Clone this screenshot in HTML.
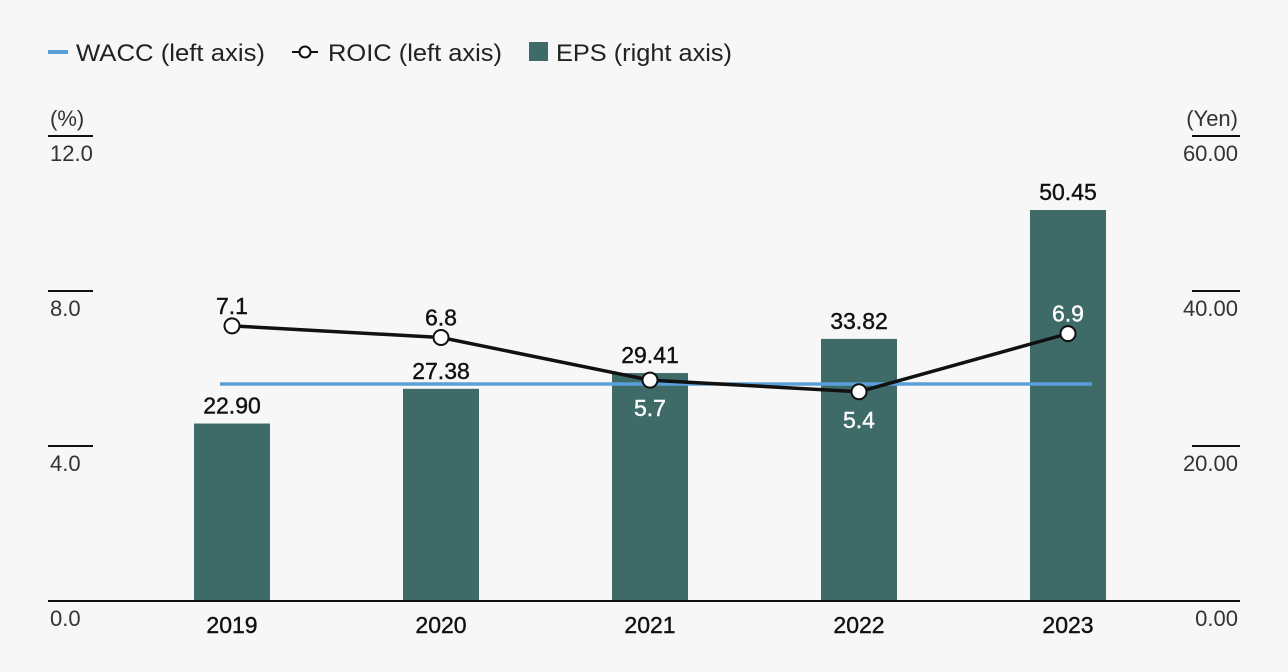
<!DOCTYPE html>
<html><head><meta charset="utf-8"><style>
body{margin:0;background:#f7f7f7;font-family:"Liberation Sans",sans-serif;}
svg{display:block}
</style></head><body>
<svg id="c" width="1288" height="672" xmlns="http://www.w3.org/2000/svg">
<g font-size="24" fill="#222">
<g><line x1="48" y1="52" x2="68" y2="52" stroke="#5aa0d8" stroke-width="4"/><text x="76" y="61" textLength="189" lengthAdjust="spacingAndGlyphs">WACC (left axis)</text></g>
<g><line x1="292" y1="52" x2="318" y2="52" stroke="#111" stroke-width="2"/><circle cx="305" cy="52" r="5.5" fill="#fff" stroke="#111" stroke-width="2"/><text x="328" y="61" textLength="174" lengthAdjust="spacingAndGlyphs">ROIC (left axis)</text></g>
<g><rect x="529" y="42" width="19" height="19" fill="#3e6b68"/><text x="556" y="61" textLength="176" lengthAdjust="spacingAndGlyphs">EPS (right axis)</text></g>
</g>
<g id="axes"></g>
<g id="marks"></g>
</svg>
<script>
const categories=['2019','2020','2021','2022','2023'];
const eps=[22.90,27.38,29.41,33.82,50.45];
const roic=[7.1,6.8,5.7,5.4,6.9];
const wacc=[5.6];
const leftTicks=[0,4,8,12];
const leftTickLabels=['0.0','4.0','8.0','12.0'];
const rightTicks=[0,20,40,60];
const rightTickLabels=['0.00','20.00','40.00','60.00'];
const roicLabelBelow=[false,false,true,true,false];

const NS='http://www.w3.org/2000/svg';
const y0=601,yTop=136;
const yL=v=>y0-(v/12)*(y0-yTop);
const yR=v=>y0-(v/60)*(y0-yTop);
const xC=i=>232+i*209;
function mk(tag,attrs,parent,txt){const e=document.createElementNS(NS,tag);for(const k in attrs)e.setAttribute(k,attrs[k]);if(txt!=null)e.textContent=txt;parent.appendChild(e);return e;}
const axes=document.getElementById('axes'),marks=document.getElementById('marks');

leftTicks.forEach((t,i)=>{
 const y=yL(t);
 if(t>0){const l=mk('line',{x1:48,x2:93,y1:y,y2:y,stroke:'#111','stroke-width':2},axes);
 
 }
 const tx=mk('text',{x:50,y:y+25,'font-size':22,fill:'#333'},axes,leftTickLabels[i]);
 
 
});
rightTicks.forEach((t,i)=>{
 const y=yR(t);
 if(t>0){const l=mk('line',{x1:1192,x2:1240,y1:y,y2:y,stroke:'#111','stroke-width':2},axes);
 
 }
 const tx=mk('text',{x:1238,y:y+25,'font-size':22,fill:'#333','text-anchor':'end'},axes,rightTickLabels[i]);
 
 
});
let u=mk('text',{x:50,y:126,'font-size':22,fill:'#333'},axes,'(%)');


u=mk('text',{x:1238,y:126,'font-size':22,fill:'#333','text-anchor':'end'},axes,'(Yen)');



const barTops=[];
categories.forEach((c,i)=>{
 const y=yR(eps[i]);barTops.push(y);
 const b=mk('rect',{x:xC(i)-38,y:y,width:76,height:y0-y,fill:'#3e6b68'},marks);
 
 
 const v=mk('text',{x:xC(i),y:y-10,'font-size':23,fill:'#111','text-anchor':'middle','stroke':'#111','stroke-width':0.4},marks,eps[i].toFixed(2));
 
 
 const cl=mk('text',{x:xC(i),y:633,'font-size':23,fill:'#111','text-anchor':'middle','stroke':'#111','stroke-width':0.4},marks,c);
 
 
});
const base=mk('line',{x1:48,x2:1240,y1:y0,y2:y0,stroke:'#111','stroke-width':2},marks);


const w=mk('line',{x1:220,x2:1092,y1:yL(wacc[0]),y2:yL(wacc[0]),stroke:'#5aa0d8','stroke-width':3.5},marks);


const p=mk('polyline',{points:roic.map((v,i)=>xC(i)+','+yL(v)).join(' '),fill:'none',stroke:'#111','stroke-width':3.5},marks);


roic.forEach((v,i)=>{
 const cy=yL(v);
 const pt=mk('circle',{cx:xC(i),cy:cy,r:7.5,fill:'#fff',stroke:'#111','stroke-width':2},marks);
 
 
 const ly=roicLabelBelow[i]?cy+36:cy-12;
 const col=(ly-10>barTops[i])?'#fff':'#111';
 const t=mk('text',{x:xC(i),y:ly,'font-size':23,fill:col,'text-anchor':'middle','stroke':col,'stroke-width':0.4},marks,v.toFixed(1));
 
 
});
</script>
</body></html>
